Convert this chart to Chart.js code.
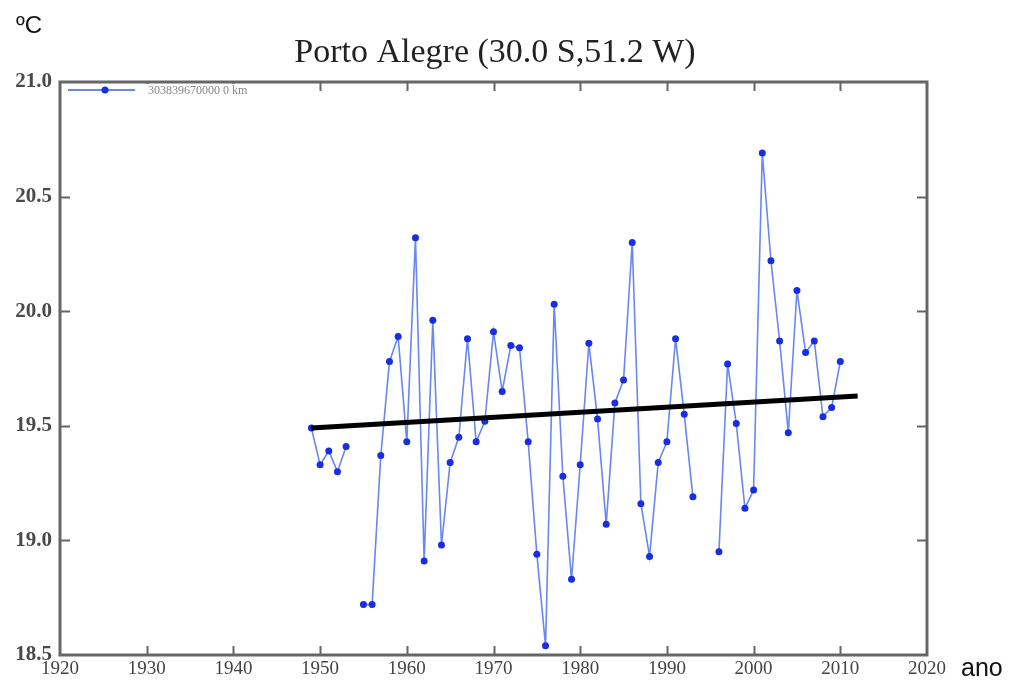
<!DOCTYPE html>
<html>
<head>
<meta charset="utf-8">
<script src="https://cdn.jsdelivr.net/npm/chart.js@4/dist/chart.umd.min.js"></script>
<style>
  html, body { margin: 0; padding: 0; background: #fff; }
  #wrap { width: 1012px; height: 686px; position: relative; }
</style>
</head>
<body>
<div id="wrap"><canvas id="chart" width="1012" height="686"></canvas></div>
<script>
// station series, annual mean temperature (ºC); null = missing year
const years = [];
for (let y = 1949; y <= 2010; y++) years.push(y);
const temps = [
  19.49, 19.33, 19.39, 19.30, 19.41, null, 18.72, 18.72, 19.37, 19.78,
  19.89, 19.43, 20.32, 18.91, 19.96, 18.98, 19.34, 19.45, 19.88, 19.43,
  19.52, 19.91, 19.65, 19.85, 19.84, 19.43, 18.94, 18.54, 20.03, 19.28,
  18.83, 19.33, 19.86, 19.53, 19.07, 19.60, 19.70, 20.30, 19.16, 18.93,
  19.34, 19.43, 19.88, 19.55, 19.19, null, null, 18.95, 19.77, 19.51,
  19.14, 19.22, 20.69, 20.22, 19.87, 19.47, 20.09, 19.82, 19.87, 19.54,
  19.58, 19.78
];
// linear trend, end points
const trendYears = [1949, 2012];
const trendValues = [19.49, 19.63];

const xTicks = [1920, 1930, 1940, 1950, 1960, 1970, 1980, 1990, 2000, 2010, 2020];
const yTicks = [18.5, 19.0, 19.5, 20.0, 20.5, 21.0];

const chartTitle = 'Porto Alegre (30.0 S,51.2 W)';
const legendLabel = '303839670000 0 km';
const yUnit = 'ºC';
const xUnit = 'ano';

const lineBlue = 'rgb(105,135,240)';
const dotBlue = 'rgb(25,45,225)';
const frameGray = '#666';

const series = years.map((y, i) => ({ x: y, y: temps[i] }));
const trend = trendYears.map((y, i) => ({ x: y, y: trendValues[i] }));

const decorPlugin = {
  id: 'decor',
  afterDatasetsDraw(chart) {
    const ctx = chart.ctx;
    const a = chart.chartArea;
    const xs = chart.scales.x, ys = chart.scales.y;
    ctx.save();
    ctx.strokeStyle = frameGray;
    ctx.lineWidth = 2;
    // inner ticks
    xTicks.slice(1, -1).forEach(t => {
      const px = Math.round(xs.getPixelForValue(t)) + 0.5;
      ctx.beginPath();
      ctx.moveTo(px, a.bottom); ctx.lineTo(px, a.bottom - 9);
      ctx.moveTo(px, a.top); ctx.lineTo(px, a.top + 9);
      ctx.stroke();
    });
    yTicks.slice(1, -1).forEach(t => {
      const py = Math.round(ys.getPixelForValue(t)) + 0.5;
      ctx.beginPath();
      ctx.moveTo(a.left, py); ctx.lineTo(a.left + 10, py);
      ctx.moveTo(a.right, py); ctx.lineTo(a.right - 10, py);
      ctx.stroke();
    });
    // legend box
    ctx.fillStyle = '#fff';
    ctx.fillRect(a.left + 2, a.top + 2, 240, 14);
    const ly = a.top + 8;
    ctx.strokeStyle = lineBlue;
    ctx.lineWidth = 2;
    ctx.beginPath();
    ctx.moveTo(a.left + 8, ly); ctx.lineTo(a.left + 75, ly);
    ctx.stroke();
    ctx.fillStyle = dotBlue;
    ctx.beginPath();
    ctx.arc(a.left + 45, ly, 3.5, 0, Math.PI * 2);
    ctx.fill();
    ctx.fillStyle = '#888';
    ctx.font = '12px "Liberation Serif"';
    ctx.textBaseline = 'middle';
    ctx.textAlign = 'left';
    ctx.fillText(legendLabel, a.left + 88, ly + 1);
    // frame
    ctx.strokeStyle = frameGray;
    ctx.lineWidth = 3;
    ctx.strokeRect(a.left, a.top, a.right - a.left, a.bottom - a.top);
    // texts
    ctx.fillStyle = '#222';
    ctx.font = '34px "Liberation Serif"';
    ctx.textAlign = 'center';
    ctx.textBaseline = 'middle';
    ctx.fillText(chartTitle, 495, 53);
    ctx.font = '24px "Liberation Sans"';
    ctx.textAlign = 'left';
    ctx.fillStyle = '#111';
    ctx.fillText(yUnit, 16, 26);
    ctx.font = '25px "Liberation Sans"';
    ctx.fillText(xUnit, 961, 669);
    ctx.restore();
  }
};

new Chart(document.getElementById('chart'), {
  type: 'line',
  data: {
    datasets: [
      {
        label: legendLabel,
        data: series,
        borderColor: lineBlue,
        borderWidth: 1.6,
        pointRadius: 3.5,
        pointBackgroundColor: dotBlue,
        pointBorderColor: dotBlue,
        pointBorderWidth: 0,
        spanGaps: false,
        tension: 0,
        order: 2
      },
      {
        label: 'trend',
        data: trend,
        borderColor: '#000',
        borderWidth: 5,
        pointRadius: 0,
        tension: 0,
        order: 1
      }
    ]
  },
  options: {
    responsive: false,
    animation: false,
    layout: { padding: { top: 82, right: 85, left: 0, bottom: 0 } },
    plugins: {
      legend: { display: false },
      title: { display: false },
      tooltip: { enabled: false }
    },
    scales: {
      x: {
        type: 'linear',
        min: 1920,
        max: 2020,
        afterBuildTicks: s => { s.ticks = xTicks.map(v => ({ value: v })); },
        afterFit: s => { s.height = 31; },
        grid: { display: false, drawTicks: false },
        border: { display: false },
        ticks: {
          padding: 3,
          maxRotation: 0,
          autoSkip: false,
          color: '#444',
          font: { family: 'Liberation Serif', size: 19 },
          callback: v => String(v)
        }
      },
      y: {
        type: 'linear',
        min: 18.5,
        max: 21.0,
        afterBuildTicks: s => { s.ticks = yTicks.map(v => ({ value: v })); },
        afterFit: s => { s.width = 60; },
        grid: { display: false, drawTicks: false },
        border: { display: false },
        ticks: {
          padding: 8,
          color: '#4a4a4a',
          font: { family: 'Liberation Serif', size: 21, weight: 'bold' },
          callback: v => v.toFixed(1)
        }
      }
    }
  },
  plugins: [decorPlugin]
});
</script>
</body>
</html>
